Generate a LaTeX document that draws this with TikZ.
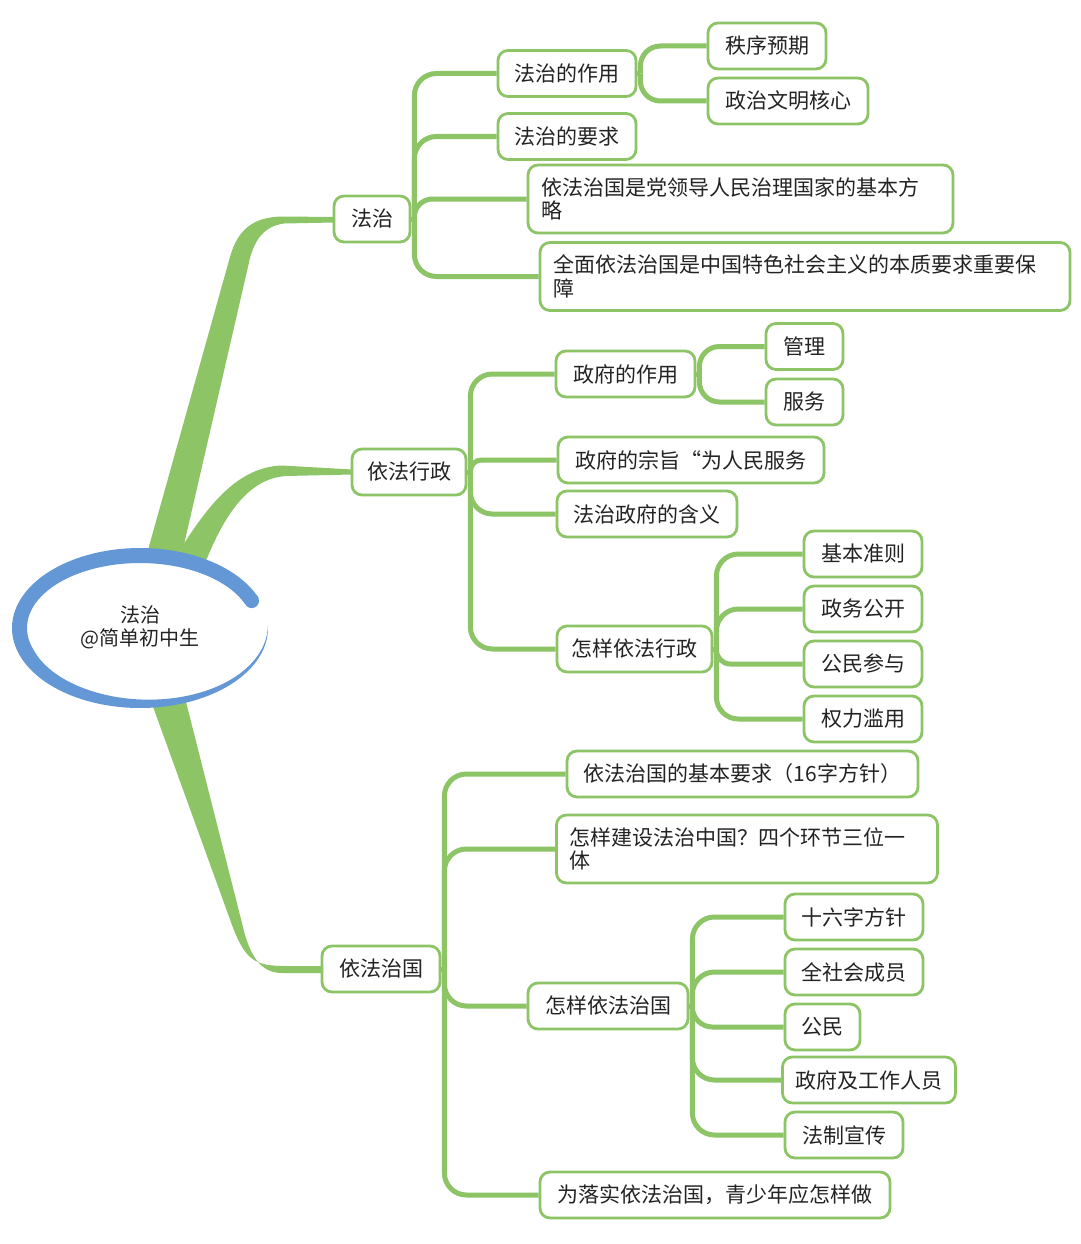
\documentclass[tikz,border=0pt]{standalone}
\usepackage{fontspec}
\newfontfamily\cjk{Noto Sans CJK SC}
\definecolor{G}{RGB}{140,196,102}
\definecolor{B}{RGB}{99,151,213}
\definecolor{T}{RGB}{35,35,35}
\pgfdeclarelayer{bg}
\pgfsetlayers{bg,main}
\tikzset{
  conn/.style={draw=G, line width=5pt},
  box/.style={draw=G, line width=2.8pt, rounded corners=10pt, fill=white, text=T,
    inner xsep=13pt, inner ysep=0pt, minimum height=46pt,
    font=\cjk\fontsize{21}{23.5}\selectfont, align=left},
  tall/.style={minimum height=68pt},
}
\newcommand\linkto[3]{%
  \draw[conn] (#1.east) -- ([xshift=3pt]#1.east);
  \draw[conn, rounded corners=#3] (#2.west) -| ([xshift=3pt]#1.east);
}
\begin{document}
\begin{tikzpicture}[x=1pt,y=-1pt]
\useasboundingbox (0,0) rectangle (1080,1244);
\begin{pgfonlayer}{bg}
  \fill[white] (0,0) rectangle (1080,1244);
  % main branches
  \fill[G] (141,575) -- (230,257) .. controls (238,228) and (255,217) .. (282,216.5) -- (334,217)
     -- (334,222.5) -- (284,223.5) .. controls (264,226) and (255,240) .. (250,258) -- (177,575) -- cycle;
  \fill[G] (165,575) -- (176,556) .. controls (205,510) and (235,467) .. (282,465.5) -- (352,469.5)
     -- (352,474.5) -- (286,476) .. controls (255,478) and (230,503) .. (208,556) -- (199,575) -- cycle;
  \fill[G] (147,690) -- (232,925) .. controls (245,960) and (255,966) .. (285,966) -- (322,966)
     -- (322,973) -- (282,973) .. controls (262,973) and (252,958) .. (245,935) -- (183,690) -- cycle;
\end{pgfonlayer}

% root
\fill[white] (140,628) ellipse [x radius=127, y radius=79];
\fill[B] plot[domain=22:362, samples=120] ({140+128*cos(\x)},{628-80*sin(\x)})
  -- plot[domain=362:22, samples=120] ({140+(128-min(15,15*(362-\x)/162))*cos(\x)},{628-(80-min(15,15*(362-\x)/162))*sin(\x)}) -- cycle;
\fill[B] (251.7,600.8) circle [radius=7.3];
\node[font=\cjk\fontsize{20}{23}\selectfont, text=T, align=center] (root) at (140,627) {法治\\@简单初中生};

% level 1
\node[box, minimum width=76] (n1) at (372,219) {法治};
\node[box, minimum width=114] (n2) at (409,472) {依法行政};
\node[box, minimum width=118] (n3) at (381,969) {依法治国};

% 法治
\node[box, minimum width=138] (n11) at (567,73.5) {法治的作用};
\node[box, minimum width=118] (n111) at (767,46) {秩序预期};
\node[box, minimum width=160] (n112) at (788,101) {政治文明核心};
\node[box, minimum width=138] (n12) at (567,136.5) {法治的要求};
\node[box, tall, text width=399pt] (n13) at (740.5,199) {依法治国是党领导人民治理国家的基本方\\略};
\node[box, tall, text width=504pt] (n14) at (805,276.5) {全面依法治国是中国特色社会主义的本质要求重要保\\障};

% 依法行政
\node[box, minimum width=139] (n21) at (625.5,374) {政府的作用};
\node[box, minimum width=77] (n211) at (804.5,346.5) {管理};
\node[box, minimum width=77] (n212) at (804.5,402) {服务};
\node[box, minimum width=266] (n22) at (691,460) {政府的宗旨“为人民服务};
\node[box, minimum width=180] (n23) at (647,514) {法治政府的含义};
\node[box, minimum width=155] (n24) at (634.5,649) {怎样依法行政};
\node[box, minimum width=118] (n241) at (863,554) {基本准则};
\node[box, minimum width=118] (n242) at (863,609) {政务公开};
\node[box, minimum width=118] (n243) at (863,664) {公民参与};
\node[box, minimum width=118] (n244) at (863,719) {权力滥用};

% 依法治国
\node[box, minimum width=351] (n31) at (742.5,774) {依法治国的基本要求（16字方针）};
\node[box, tall, text width=355pt] (n32) at (747,849) {怎样建设法治中国？四个环节三位一\\体};
\node[box, minimum width=160] (n33) at (608,1006) {怎样依法治国};
\node[box, minimum width=138] (n331) at (854,917) {十六字方针};
\node[box, minimum width=138] (n332) at (854,972) {全社会成员};
\node[box, minimum width=75] (n333) at (822.5,1027) {公民};
\node[box, minimum width=168] (n334) at (869,1080) {政府及工作人员};
\node[box, minimum width=118] (n335) at (844,1135) {法制宣传};
\node[box, minimum width=350] (n34) at (715,1195) {为落实依法治国，青少年应怎样做};

\begin{pgfonlayer}{bg}
  \linkto{n1}{n11}{22}
  \linkto{n1}{n12}{22}
  \linkto{n1}{n13}{18}
  \linkto{n1}{n14}{22}
  \linkto{n11}{n111}{20}
  \linkto{n11}{n112}{20}
  \linkto{n2}{n21}{22}
  \linkto{n2}{n22}{11}
  \linkto{n2}{n23}{22}
  \linkto{n2}{n24}{22}
  \linkto{n21}{n211}{20}
  \linkto{n21}{n212}{20}
  \linkto{n24}{n241}{22}
  \linkto{n24}{n242}{22}
  \linkto{n24}{n243}{14}
  \linkto{n24}{n244}{22}
  \linkto{n3}{n31}{22}
  \linkto{n3}{n32}{22}
  \linkto{n3}{n33}{22}
  \linkto{n3}{n34}{22}
  \linkto{n33}{n331}{22}
  \linkto{n33}{n332}{22}
  \linkto{n33}{n333}{20}
  \linkto{n33}{n334}{22}
  \linkto{n33}{n335}{22}
\end{pgfonlayer}
\end{tikzpicture}
\end{document}
